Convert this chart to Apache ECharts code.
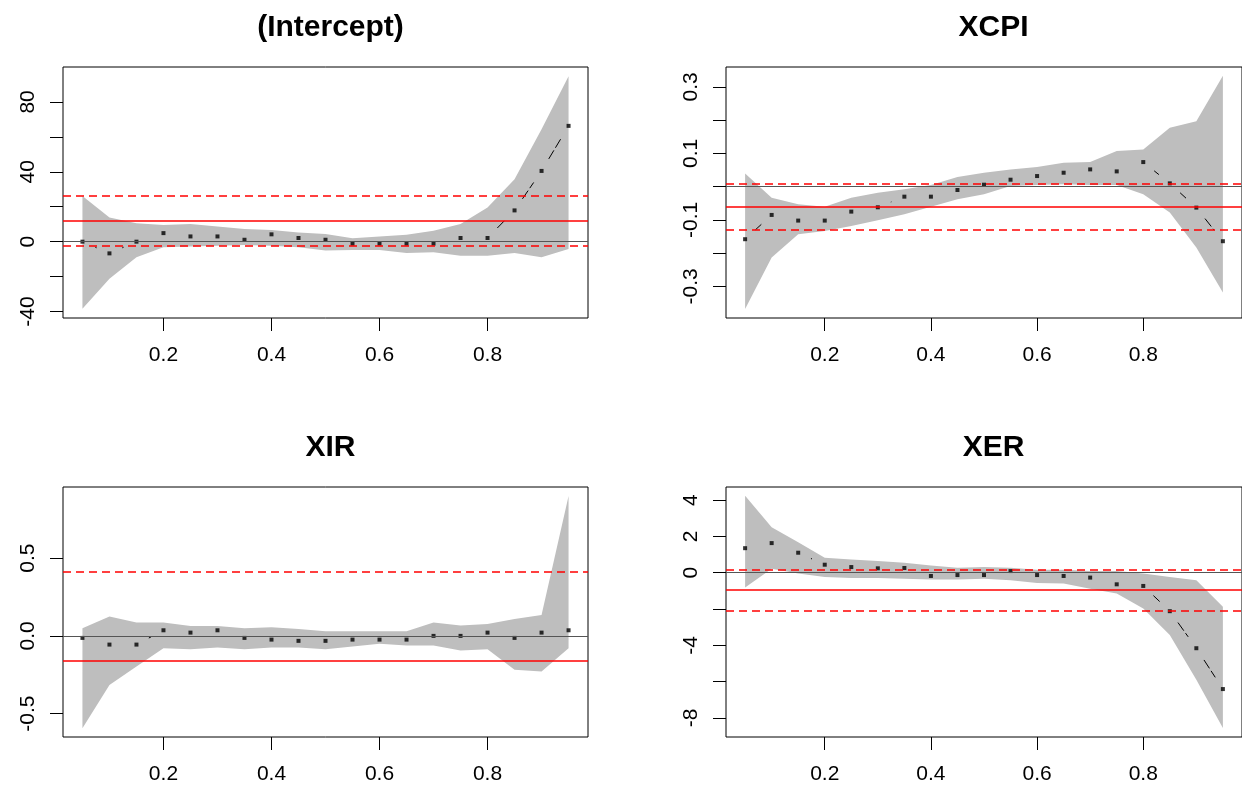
<!DOCTYPE html>
<html>
<head>
<meta charset="utf-8">
<title>Quantile regression coefficients</title>
<script src="https://cdn.jsdelivr.net/npm/echarts@6/dist/echarts.min.js"></script>
<style>
  html, body { margin: 0; padding: 0; background: #ffffff; }
  #chart { width: 1242px; height: 791px; }
</style>
</head>
<body>
<div id="chart"></div>
<script>
// Quantiles at which the model was estimated
const taus = [0.05, 0.10, 0.15, 0.20, 0.25, 0.30, 0.35, 0.40, 0.45, 0.50,
              0.55, 0.60, 0.65, 0.70, 0.75, 0.80, 0.85, 0.90, 0.95];
const xTickValues = [0.2, 0.4, 0.6, 0.8];

// (Intercept)
const interceptCoef  = [0.0, -6.7, 0.0, 4.9, 3.0, 3.0, 1.1, 4.2, 2.1, 1.1,
                        -1.1, -1.1, -1.1, -1.1, 2.1, 2.1, 17.9, 40.5, 66.3];
const interceptUpper = [26.2, 13.9, 10.6, 9.5, 10.1, 8.7, 7.2, 6.7, 5.3, 4.4,
                        1.9, 3.0, 4.0, 6.3, 10.1, 19.6, 35.7, 64.3, 94.7];
const interceptLower = [-38.4, -21.3, -8.9, -3.2, -2.7, -2.3, -1.9, -2.3, -3.2, -5.1,
                        -4.8, -4.8, -6.5, -6.1, -8.0, -8.0, -6.5, -8.9, -4.2];
const interceptOls   = [12.0, -2.3, 26.3];           // estimate, lower, upper
const interceptTicks = [-40, -20, 0, 20, 40, 60, 80];
const interceptLabels = [-40, 0, 40, 80];

// XCPI
const cpiCoef  = [-0.158, -0.085, -0.102, -0.102, -0.075, -0.062, -0.030, -0.030, -0.010, 0.006,
                  0.021, 0.032, 0.042, 0.052, 0.046, 0.074, 0.010, -0.063, -0.164];
const cpiUpper = [0.040, -0.033, -0.053, -0.060, -0.033, -0.018, -0.008, 0.005, 0.029, 0.042,
                  0.052, 0.059, 0.072, 0.074, 0.107, 0.112, 0.177, 0.197, 0.334];
const cpiLower = [-0.368, -0.213, -0.143, -0.133, -0.118, -0.101, -0.083, -0.060, -0.038, -0.023,
                  0.002, 0.005, 0.007, 0.005, 0.005, -0.023, -0.078, -0.183, -0.318];
const cpiOls   = [-0.060, -0.131, 0.012];
const cpiTicks = [-0.3, -0.2, -0.1, 0, 0.1, 0.2, 0.3];
const cpiLabels = [-0.3, -0.1, 0.1, 0.3];

// XIR
const irCoef  = [-0.013, -0.056, -0.056, 0.036, 0.021, 0.036, -0.013, -0.024, -0.032, -0.032,
                 -0.024, -0.024, -0.024, 0.000, 0.000, 0.021, -0.013, 0.021, 0.036];
const irUpper = [0.049, 0.124, 0.086, 0.086, 0.064, 0.064, 0.049, 0.056, 0.045, 0.030,
                 0.030, 0.030, 0.030, 0.086, 0.066, 0.077, 0.109, 0.135, 0.899];
const irLower = [-0.593, -0.315, -0.197, -0.079, -0.086, -0.075, -0.086, -0.075, -0.075, -0.086,
                 -0.069, -0.051, -0.062, -0.062, -0.094, -0.086, -0.218, -0.229, -0.079];
const irOls   = [-0.156, -0.721, 0.409];
const irTicks = [-0.5, 0, 0.5];
const irLabels = [-0.5, 0, 0.5];

// XER
const erCoef  = [1.35, 1.63, 1.10, 0.44, 0.31, 0.24, 0.26, -0.18, -0.13, -0.13,
                 0.09, -0.13, -0.18, -0.27, -0.64, -0.73, -2.12, -4.16, -6.41];
const erUpper = [4.24, 2.50, 1.68, 0.82, 0.73, 0.64, 0.55, 0.40, 0.27, 0.31,
                 0.27, 0.16, 0.16, 0.09, 0.09, -0.05, -0.24, -0.42, -1.88];
const erLower = [-0.82, 0.22, -0.05, -0.24, -0.29, -0.29, -0.33, -0.38, -0.38, -0.33,
                 -0.42, -0.57, -0.60, -0.88, -1.15, -1.97, -3.43, -5.90, -8.55];
const erOls   = [-0.96, -2.07, 0.15];
const erTicks = [-8, -6, -4, -2, 0, 2, 4];
const erLabels = [-8, -4, 0, 2, 4];

const titles = ['(Intercept)', 'XCPI', 'XIR', 'XER'];

// Panel layout and axis settings
const FONT = '"Liberation Sans", Arial, Helvetica, sans-serif';
const panels = [
  { title: titles[0], coef: interceptCoef, upper: interceptUpper, lower: interceptLower, ols: interceptOls,
    ticks: interceptTicks, labels: interceptLabels, digits: 0, ymin: -43.7, ymax: 100.0,
    left: 63, top: 67, width: 525, height: 251 },
  { title: titles[1], coef: cpiCoef, upper: cpiUpper, lower: cpiLower, ols: cpiOls,
    ticks: cpiTicks, labels: cpiLabels, digits: 1, ymin: -0.395, ymax: 0.36,
    left: 726, top: 67, width: 525, height: 251 },
  { title: titles[2], coef: irCoef, upper: irUpper, lower: irLower, ols: irOls,
    ticks: irTicks, labels: irLabels, digits: 1, ymin: -0.65, ymax: 0.957,
    left: 63, top: 487, width: 525, height: 250 },
  { title: titles[3], coef: erCoef, upper: erUpper, lower: erLower, ols: erOls,
    ticks: erTicks, labels: erLabels, digits: 0, ymin: -9.05, ymax: 4.72,
    left: 726, top: 487, width: 525, height: 250 }
];

const XMIN = 0.014, XMAX = 0.986;
const TICK_LEN = 13;
const LABEL_SIZE = 21;

function bandRenderer(lower, upper) {
  return function (params, api) {
    const pts = [];
    for (let i = 0; i < taus.length; i++) pts.push(api.coord([taus[i], upper[i]]));
    for (let i = taus.length - 1; i >= 0; i--) pts.push(api.coord([taus[i], lower[i]]));
    return { type: 'polygon', shape: { points: pts }, style: { fill: '#bebebe' } };
  };
}

// Connecting segments between estimates, with a gap left around each point
function segmentRenderer(params, api) {
  const a = api.coord([api.value(0), api.value(1)]);
  const b = api.coord([api.value(2), api.value(3)]);
  const dx = b[0] - a[0], dy = b[1] - a[1];
  const len = Math.sqrt(dx * dx + dy * dy);
  const gap = 14;
  if (len <= 2 * gap + 0.5) return;
  const ux = dx / len, uy = dy / len;
  return {
    type: 'line',
    shape: { x1: a[0] + ux * gap, y1: a[1] + uy * gap, x2: b[0] - ux * gap, y2: b[1] - uy * gap },
    style: { stroke: '#000000', lineWidth: 1, lineDash: [10, 3] }
  };
}

const grid = [], xAxis = [], yAxis = [], series = [], title = [];

panels.forEach(function (p, k) {
  grid.push({
    left: p.left, top: p.top, width: p.width, height: p.height,
    show: true, borderColor: '#000000', borderWidth: 1, backgroundColor: 'transparent',
    containLabel: false
  });
  title.push({
    text: p.title,
    left: p.left + p.width / 2,
    top: p.top - 59,
    textAlign: 'center',
    textStyle: { fontFamily: FONT, fontSize: 30, fontWeight: 'bold', color: '#000000' }
  });
  xAxis.push({
    type: 'value', gridIndex: k, min: XMIN, max: XMAX, position: 'bottom',
    splitLine: { show: false },
    axisLine: { show: false, onZero: false },
    axisTick: { show: true, inside: false, length: TICK_LEN, customValues: xTickValues,
                lineStyle: { color: '#000000', width: 1 } },
    axisLabel: { show: true, customValues: xTickValues, margin: 27,
                 fontFamily: FONT, fontSize: LABEL_SIZE, color: '#000000',
                 formatter: function (v) { return v.toFixed(1); } }
  });
  yAxis.push({
    type: 'value', gridIndex: k, min: p.ymin, max: p.ymax, position: 'left',
    splitLine: { show: false },
    axisLine: { show: false, onZero: false },
    axisTick: { show: true, inside: false, length: TICK_LEN, customValues: p.ticks,
                lineStyle: { color: '#000000', width: 1 } },
    axisLabel: { show: true, customValues: p.labels, rotate: 90, margin: 24,
                 fontFamily: FONT, fontSize: LABEL_SIZE, color: '#000000',
                 formatter: (function (d) { return function (v) { return (+v).toFixed(d); }; })(p.digits) }
  });

  // confidence band with reference lines on top of it
  series.push({
    type: 'custom', xAxisIndex: k, yAxisIndex: k, z: 1,
    silent: true, animation: false,
    renderItem: bandRenderer(p.lower, p.upper),
    data: [[taus[0], p.lower[0]]],
    markLine: {
      silent: true, animation: false, symbol: ['none', 'none'],
      label: { show: false },
      data: [
        { yAxis: 0, lineStyle: { color: '#555555', width: 1.2, type: 'solid' } },
        { yAxis: p.ols[0], lineStyle: { color: '#ff0000', width: 1.6, type: 'solid' } },
        { yAxis: p.ols[1], lineStyle: { color: '#ff0000', width: 1.6, type: [8, 5] } },
        { yAxis: p.ols[2], lineStyle: { color: '#ff0000', width: 1.6, type: [8, 5] } }
      ]
    }
  });

  // dashed connectors between successive estimates
  const segs = [];
  for (let i = 0; i < taus.length - 1; i++) {
    segs.push([taus[i], p.coef[i], taus[i + 1], p.coef[i + 1]]);
  }
  series.push({
    type: 'custom', xAxisIndex: k, yAxisIndex: k, z: 3,
    silent: true, animation: false,
    renderItem: segmentRenderer,
    encode: { x: [0, 2], y: [1, 3] },
    data: segs
  });

  // quantile estimates
  series.push({
    type: 'scatter', xAxisIndex: k, yAxisIndex: k, z: 4,
    silent: true, animation: false,
    symbol: 'rect', symbolSize: 4,
    itemStyle: { color: '#000000' },
    data: taus.map(function (t, i) { return [t, p.coef[i]]; })
  });
});

const chart = echarts.init(document.getElementById('chart'), null, { renderer: 'canvas' });
chart.setOption({
  backgroundColor: '#ffffff',
  animation: false,
  title: title,
  grid: grid,
  xAxis: xAxis,
  yAxis: yAxis,
  series: series
});
</script>
</body>
</html>
